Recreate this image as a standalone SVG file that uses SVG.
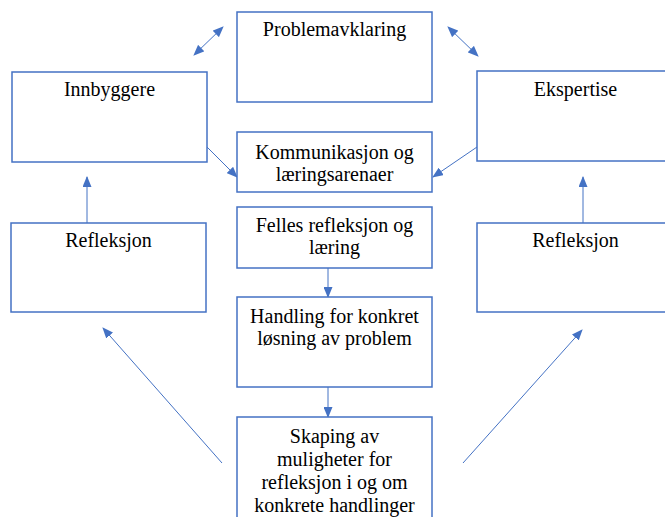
<svg xmlns="http://www.w3.org/2000/svg" width="665" height="517" viewBox="0 0 665 517">
<style>
.box{fill:#fff;stroke:#4472C4;stroke-width:1.5}
.t{font-family:"Liberation Serif","Times New Roman",serif;font-size:20px;fill:#000;text-anchor:middle}
.c{stroke:#4472C4;stroke-width:1;fill:none}
</style>
<defs>
<marker id="ah" markerUnits="userSpaceOnUse" markerWidth="11" markerHeight="9" refX="10" refY="4.5" orient="auto-start-reverse" viewBox="0 0 11 9">
<path d="M0,0 L11,4.5 L0,9 z" fill="#4472C4"/>
</marker>
</defs>
<rect width="665" height="517" fill="#fff"/>
<g id="connectors">
<line class="c" x1="194" y1="55" x2="223" y2="27" marker-start="url(#ah)" marker-end="url(#ah)"/>
<line class="c" x1="448" y1="27" x2="478" y2="56" marker-start="url(#ah)" marker-end="url(#ah)"/>
<line class="c" x1="207" y1="147" x2="237" y2="177" marker-end="url(#ah)"/>
<line class="c" x1="477" y1="147" x2="433" y2="177" marker-end="url(#ah)"/>
<line class="c" x1="87" y1="223" x2="87" y2="177" marker-end="url(#ah)"/>
<line class="c" x1="583" y1="223" x2="583" y2="177" marker-end="url(#ah)"/>
<line class="c" x1="328" y1="268" x2="328" y2="297" marker-end="url(#ah)"/>
<line class="c" x1="328" y1="387" x2="328" y2="417" marker-end="url(#ah)"/>
<line class="c" x1="222" y1="463" x2="103" y2="328" marker-end="url(#ah)"/>
<line class="c" x1="463" y1="463" x2="582" y2="330" marker-end="url(#ah)"/>
</g>
<g id="problemavklaring">
<rect class="box" x="237" y="12" width="195" height="90"/>
<text class="t" x="334.5" y="36">Problemavklaring</text>
</g>
<g id="innbyggere">
<rect class="box" x="12" y="72" width="195" height="90"/>
<text class="t" x="109.5" y="96">Innbyggere</text>
</g>
<g id="ekspertise">
<rect class="box" x="477" y="71" width="195" height="90"/>
<text class="t" x="575.5" y="96">Ekspertise</text>
</g>
<g id="kommunikasjon">
<rect class="box" x="237" y="132" width="195" height="60"/>
<text class="t" x="334.5" y="159">Kommunikasjon og</text>
<text class="t" x="334.5" y="181">læringsarenaer</text>
</g>
<g id="felles">
<rect class="box" x="237" y="207" width="195" height="61"/>
<text class="t" x="334.5" y="232">Felles refleksjon og</text>
<text class="t" x="334.5" y="254">læring</text>
</g>
<g id="handling">
<rect class="box" x="237" y="297" width="195" height="90"/>
<text class="t" x="334.5" y="323">Handling for konkret</text>
<text class="t" x="334.5" y="345">løsning av problem</text>
</g>
<g id="skaping">
<rect class="box" x="237" y="417" width="195" height="110"/>
<text class="t" x="334.5" y="443">Skaping av</text>
<text class="t" x="334.5" y="466">muligheter for</text>
<text class="t" x="334.5" y="489">refleksjon i og om</text>
<text class="t" x="334.5" y="512">konkrete handlinger</text>
</g>
<g id="refleksjon-left">
<rect class="box" x="11" y="223" width="195" height="89"/>
<text class="t" x="108.5" y="247">Refleksjon</text>
</g>
<g id="refleksjon-right">
<rect class="box" x="477" y="223" width="195" height="89"/>
<text class="t" x="575.5" y="247">Refleksjon</text>
</g>
</svg>
